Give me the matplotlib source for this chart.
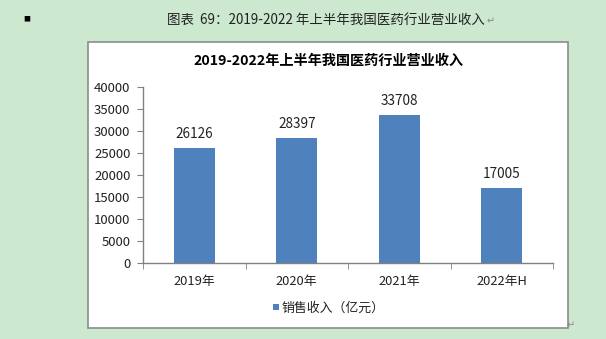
import matplotlib.pyplot as plt
from matplotlib.patches import Rectangle
import numpy as np

plt.rcParams['font.family'] = ['Noto Sans CJK SC', 'DejaVu Sans']

categories = ['2019年', '2020年', '2021年', '2022年H']
revenue = [26126, 28397, 33708, 17005]
y_ticks = [0, 5000, 10000, 15000, 20000, 25000, 30000, 35000, 40000]

page_bg = '#cce8cf'
bar_color = '#4f81bd'
W, H = 606, 339

fig = plt.figure(figsize=(W / 100, H / 100), dpi=100, facecolor=page_bg)

# white chart frame
fig.patches.append(Rectangle((88 / W, 1 - 328 / H), 480 / W, 286 / H,
                             transform=fig.transFigure, facecolor='white',
                             edgecolor='#8c8c8c', linewidth=1.2, zorder=-1))

# outer caption
fig.text(27 / W, 1 - 19 / H, '■', fontsize=5, ha='center', va='center', color='black')
fig.text(326 / W, 1 - 20 / H, '图表  69：2019-2022 年上半年我国医药行业营业收入',
         fontsize=9.7, ha='center', va='center', color='#222222')
fig.text(487 / W, 1 - 21 / H, '↵', fontsize=7, ha='left', va='center', color='#888888',
         family=['DejaVu Sans'])
fig.text(571 / W, 1 - 325 / H, '↵', fontsize=7, ha='center', va='center', color='#888888',
         family=['DejaVu Sans'])

ax = fig.add_axes([143 / W, 1 - 263 / H, 410 / W, 176 / H])
ax.set_facecolor('white')

x = np.arange(len(categories))
bars = ax.bar(x, revenue, width=0.4, color=bar_color, zorder=2)
for xi, v in zip(x, revenue):
    ax.text(xi, v + 1600, str(v), ha='center', va='bottom', fontsize=9.8, color='#222222')

ax.set_xlim(-0.5, len(categories) - 0.5)
ax.set_ylim(0, 40000)
ax.set_yticks(y_ticks)
ax.set_yticklabels([str(t) for t in y_ticks], fontsize=9.5, color='#222222')
ax.set_xticks(x)
ax.set_xticklabels(categories, fontsize=9.3, color='#222222')
ax.tick_params(axis='x', length=0, pad=9)
ax.set_xticks(np.arange(len(categories) + 1) - 0.5, minor=True)
ax.tick_params(axis='x', which='minor', length=4, direction='out', color='#808080')
ax.tick_params(axis='y', length=4, direction='out', color='#808080', pad=5)

for s in ['top', 'right']:
    ax.spines[s].set_visible(False)
for s in ['left', 'bottom']:
    ax.spines[s].set_color('#808080')
    ax.spines[s].set_linewidth(1)

fig.text(328 / W, 1 - 61 / H, '2019-2022年上半年我国医药行业营业收入',
         fontsize=10.2, fontweight='bold', ha='center', va='center', color='black')

# legend
fig.patches.append(Rectangle((273 / W, 1 - 310 / H), 6 / W, 6 / H,
                             transform=fig.transFigure, facecolor=bar_color,
                             edgecolor='none'))
fig.text(282 / W, 1 - 308 / H, '销售收入（亿元）', fontsize=9.3, ha='left', va='center',
         color='#222222')

fig.savefig('out.png', dpi=100, facecolor=page_bg)
